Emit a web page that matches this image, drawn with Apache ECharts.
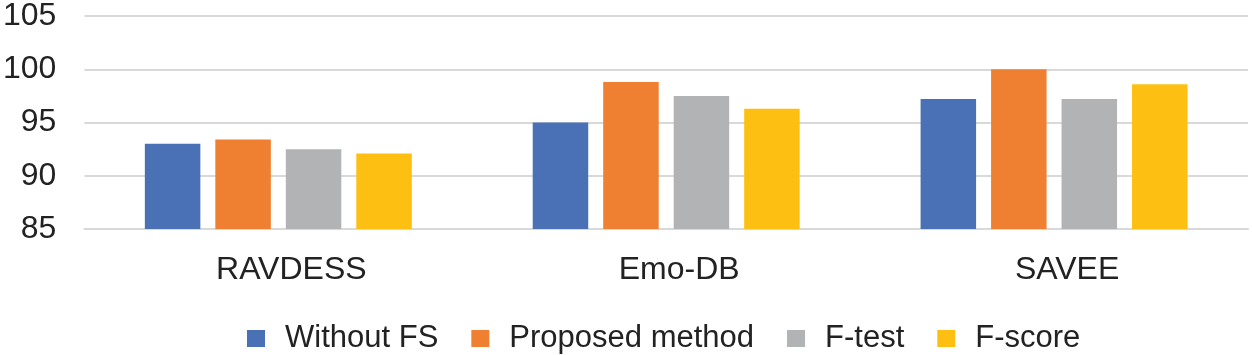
<!DOCTYPE html>
<html>
<head>
<meta charset="utf-8">
<script src="https://cdn.jsdelivr.net/npm/echarts@6/dist/echarts.min.js"></script>
<style>
html,body{margin:0;padding:0;background:#fff;}
#main{width:1252px;height:355px;}
</style>
</head>
<body>
<div id="main"></div>
<script>
const categories = ['RAVDESS', 'Emo-DB', 'SAVEE'];
const seriesNames = ['Without FS', 'Proposed method', 'F-test', 'F-score'];
const withoutFS = [93.0, 95.0, 97.2];
const proposedMethod = [93.4, 98.8, 100.0];
const fTest = [92.5, 97.5, 97.2];
const fScore = [92.1, 96.3, 98.6];
const yTicks = { min: 85, max: 105, interval: 5 };

const colors = ['#4a71b6', '#ef7f31', '#b2b3b5', '#fdc012'];
const values = [withoutFS, proposedMethod, fTest, fScore];

const chart = echarts.init(document.getElementById('main'), null, { renderer: 'canvas' });
const font = '"Liberation Sans", Arial, sans-serif';

chart.setOption({
  animation: false,
  textStyle: { fontFamily: font },
  grid: { left: 80, right: 4, top: 16, bottom: 126, containLabel: false },
  legend: {
    left: 242,
    top: 318,
    itemWidth: 18,
    itemHeight: 17,
    itemGap: 33,
    icon: 'rect',
    textStyle: { fontSize: 31, color: '#222', fontFamily: font, padding: [0, 0, 0, 15] },
    data: seriesNames
  },
  xAxis: {
    type: 'category',
    data: categories,
    axisLine: { show: true, lineStyle: { color: '#d9d9d9', width: 2 } },
    axisTick: { show: false },
    axisLabel: { fontSize: 32, color: '#222', margin: 25, fontFamily: font, padding: [0, 0, 0, 26] }
  },
  yAxis: {
    type: 'value',
    min: yTicks.min,
    max: yTicks.max,
    interval: yTicks.interval,
    axisLine: { show: false },
    axisTick: { show: false },
    splitLine: { lineStyle: { color: '#d9d9d9', width: 2 } },
    axisLabel: { fontSize: 32, color: '#222', margin: 28, fontFamily: font }
  },
  series: seriesNames.map((name, i) => ({
    name: name,
    type: 'bar',
    data: values[i],
    barWidth: 55.5,
    barGap: '27%',
    itemStyle: { color: colors[i] }
  }))
});
</script>
</body>
</html>
